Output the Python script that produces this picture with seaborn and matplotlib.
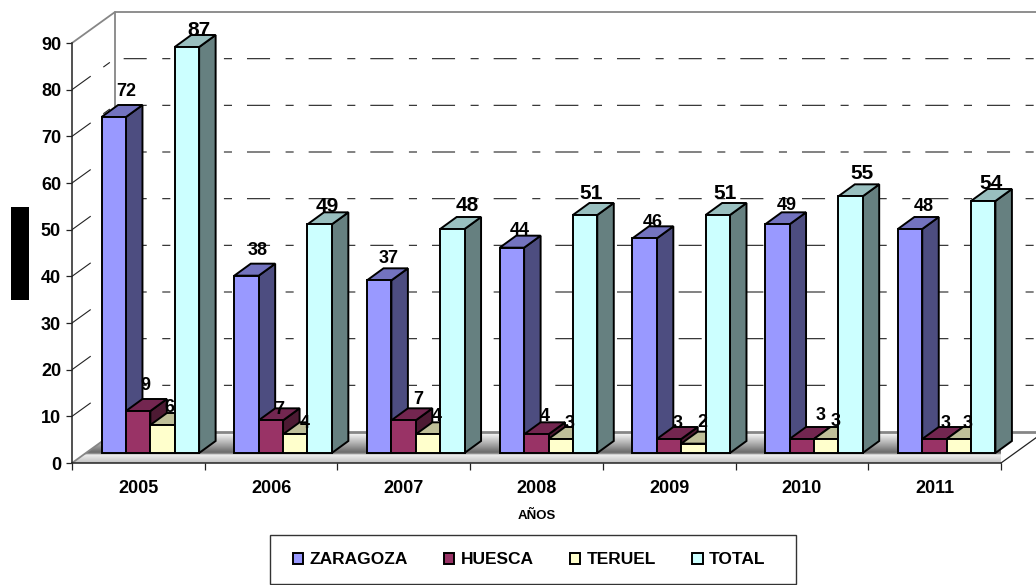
import numpy as np
import pandas as pd
import matplotlib
matplotlib.use("Agg")
import matplotlib.pyplot as plt
from matplotlib.patches import Polygon, Rectangle
import seaborn as sns

YEARS = ["2005", "2006", "2007", "2008", "2009", "2010", "2011"]
ZARAGOZA = [72, 38, 37, 44, 46, 49, 48]
HUESCA = [9, 7, 7, 4, 3, 3, 3]
TERUEL = [6, 4, 4, 3, 2, 3, 3]
TOTAL = [87, 49, 48, 51, 51, 55, 54]
SERIES = ["ZARAGOZA", "HUESCA", "TERUEL", "TOTAL"]
YTICKS = [0, 10, 20, 30, 40, 50, 60, 70, 80, 90]

FRONT = ["#9999FF", "#993366", "#FFFFCC", "#CCFFFF"]
SIDE = ["#4D4D80", "#4D1A33", "#808066", "#668080"]
TOP = ["#7373BF", "#732650", "#BFBF99", "#99BFBF"]

# hand placed data-label offsets in pixels (dx, dy up), one row per year
LABEL_OFFSETS = [
    [(12, 25), (7, 25), (7, 17), (12, 16)],
    [(11, 25), (8, 11), (9, 11), (8, 18)],
    [(9, 22), (15, 21), (9, 18), (15, 23)],
    [(8, 17), (8, 18), (9, 16), (6, 21)],
    [(8, 16), (9, 16), (9, 21), (7, 21)],
    [(9, 19), (19, 23), (10, 17), (12, 23)],
    [(14, 22), (11, 16), (9, 16), (8, 17)],
]

sns.set_style("white")
plt.rcParams["font.family"] = ["Liberation Sans", "DejaVu Sans"]
plt.rcParams["lines.scale_dashes"] = False
plt.rcParams["font.weight"] = "bold"
plt.rcParams["text.color"] = "black"
plt.rcParams["xtick.labelcolor"] = "black"
plt.rcParams["ytick.labelcolor"] = "black"

W, H = 1036, 585
fig = plt.figure(figsize=(W / 100, H / 100), dpi=100, facecolor="white")
ax = fig.add_axes([72 / W, 1 - 463 / H, 929 / W, 420 / H])

df = pd.DataFrame({"year": YEARS, "ZARAGOZA": ZARAGOZA, "HUESCA": HUESCA,
                   "TERUEL": TERUEL, "TOTAL": TOTAL})
long = df.melt(id_vars="year", var_name="serie", value_name="valor")
sns.barplot(data=long, x="year", y="valor", hue="serie", hue_order=SERIES,
            order=YEARS, palette=dict(zip(SERIES, FRONT)), saturation=1,
            width=0.735, edgecolor="black", linewidth=1.4, ax=ax)

PX = 7 / 929          # data units of x per pixel
PY = 90 / 420         # data units of y per pixel
ax.set_xlim(-0.5, 6.5)
ax.set_ylim(0, 90)
WALL_X, WALL_Y = 43 * PX, 31 * PY
BAR_SHIFT_X, BAR_SHIFT_Y = 12 * PX, 10 * PY
DEPTH_X, DEPTH_Y = 16.5 * PX, 12 * PY

# floor with its gradient
x0, x1 = -0.5, 6.5
floor = Polygon([(x0, 0), (x1, 0), (x1 + WALL_X, WALL_Y), (x0 + WALL_X, WALL_Y)],
                closed=True, transform=ax.transData, fc="none", ec="none")
ax.add_patch(floor)
pos = np.linspace(0, 1, 124)
shade = np.interp(pos, [0, 0.35, 0.65, 0.69, 0.74, 1], [1.0, 0.7, 0.42, 0.5, 0.93, 0.75])
img = ax.imshow(shade[:, None], cmap="gray", vmin=0, vmax=1, aspect="auto",
                extent=(x0, x1 + WALL_X, 0, WALL_Y), origin="upper", zorder=1.5)
img.set_clip_path(floor)
ax.set_xlim(x0, x1)
ax.set_ylim(0, 90)

# walls and gridlines
GREY = "#868686"
ax.plot([x0, x0 + WALL_X, x1 + WALL_X], [90, 90 + WALL_Y, 90 + WALL_Y], color=GREY,
        lw=1.3, clip_on=False, zorder=2)
ax.plot([x0 + WALL_X, x0 + WALL_X], [WALL_Y, 90 + WALL_Y], color=GREY, lw=1.3,
        clip_on=False, zorder=2)
ax.plot([x0 + WALL_X, x1 + WALL_X], [WALL_Y, WALL_Y], color=GREY, lw=2,
        clip_on=False, zorder=2)
ax.plot([x0, x0 + WALL_X], [0, WALL_Y], color=GREY, lw=1.3, clip_on=False, zorder=2)
ax.plot([x1, x1 + WALL_X], [0, WALL_Y], color="#222222", lw=0.9, clip_on=False, zorder=2)
for v in YTICKS[1:-1]:
    ax.plot([x0, x0 + WALL_X, x1 + WALL_X], [v, v + WALL_Y, v + WALL_Y], color="#222222",
            lw=0.8, ls=(0, (16.6, 11.2, 5.8, 10.8)), clip_on=False, zorder=1.8)

# 3-D faces of every bar, derived from the bars seaborn drew
for j, container in enumerate(ax.containers):
    zf = 5 + 2 * j
    for i, p in enumerate(container.patches):
        bx, bw, bh = p.get_x() + BAR_SHIFT_X, p.get_width(), p.get_height()
        p.set_x(bx)
        p.set_y(BAR_SHIFT_Y)
        p.set_clip_on(False)
        p.set_zorder(zf)
        by = BAR_SHIFT_Y + bh
        ax.add_patch(Polygon([(bx + bw, BAR_SHIFT_Y), (bx + bw + DEPTH_X, BAR_SHIFT_Y + DEPTH_Y),
                              (bx + bw + DEPTH_X, by + DEPTH_Y), (bx + bw, by)], closed=True,
                             fc=SIDE[j], ec="black", lw=1.4, zorder=zf - 1, clip_on=False))
        ax.add_patch(Polygon([(bx, by), (bx + DEPTH_X, by + DEPTH_Y),
                              (bx + bw + DEPTH_X, by + DEPTH_Y), (bx + bw, by)], closed=True,
                             fc=TOP[j], ec="black", lw=1.4, zorder=zf - 1, clip_on=False))
        dx, dy = LABEL_OFFSETS[i][j]
        ax.annotate(str(int(bh)), (bx + bw / 2, by), xytext=(dx * 0.72, dy * 0.72),
                    textcoords="offset points", ha="center", va="center",
                    fontsize=15 if j == 3 else 13, fontweight="bold", color="black",
                    zorder=30, annotation_clip=False)

# axes
sns.despine(ax=ax, top=True, right=True)
for s in ("left", "bottom"):
    ax.spines[s].set_color("#222222")
    ax.spines[s].set_linewidth(1.1)
    ax.spines[s].set_zorder(3)
ax.set_yticks(YTICKS)
ax.set_xticks(np.arange(-0.5, 7, 1), labels=[])
ax.set_xticks(range(7), YEARS, minor=True)
ax.tick_params(axis="y", left=True, length=4.3, width=0.9, pad=3.6, labelsize=13, color="#222222")
ax.tick_params(axis="x", which="major", bottom=True, length=5, width=0.9, color="#222222")
ax.tick_params(axis="x", which="minor", bottom=True, length=0, pad=12, labelsize=13)
ax.set_xlabel("")
ax.set_ylabel("")
for t in ax.get_xticklabels(minor=True) + ax.get_yticklabels():
    t.set_fontweight("bold")
    t.set_color("black")

fig.text(537 / W, 1 - 516 / H, "AÑOS", ha="center", va="center", fontsize=9.5,
         fontweight="bold", color="black")

# redacted vertical axis title block
fig.add_artist(Rectangle((11 / W, 1 - 300 / H), 18 / W, 93 / H, transform=fig.transFigure,
                         fc="black", ec="none"))

# legend
handles, labels = ax.get_legend_handles_labels()
ax.legend(handles, labels, loc="center", bbox_to_anchor=(529 / W, 1 - 560 / H),
          bbox_transform=fig.transFigure, ncol=4, frameon=False,
          prop={"weight": "bold", "size": 12.5}, handlelength=0.6, handleheight=0.6,
          handletextpad=0.35, columnspacing=2.1, borderpad=0, borderaxespad=0,
          labelcolor="black")
fig.add_artist(Rectangle((270 / W, 1 - 584 / H), 526 / W, 49 / H, transform=fig.transFigure,
                         fc="none", ec="#333333", lw=1))

fig.savefig("out.png", dpi=100, facecolor="white")
